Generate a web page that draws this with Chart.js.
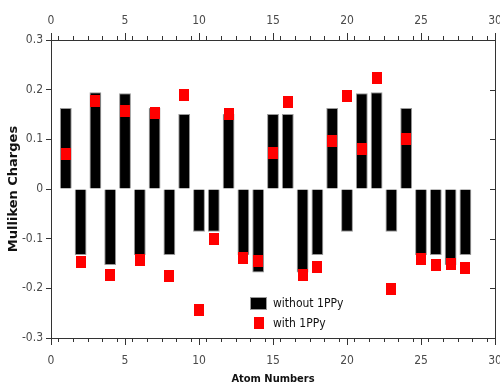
<!DOCTYPE html>
<html>
<head>
<meta charset="utf-8">
<script src="https://cdn.jsdelivr.net/npm/chart.js@4.4.1/dist/chart.umd.min.js"></script>
<style>
  html, body { margin: 0; padding: 0; background: #fff; }
</style>
</head>
<body>
<canvas id="chart" width="500" height="385"></canvas>
<script>
// atom index on the x axis
const atomNumbers = [1, 2, 3, 4, 5, 6, 7, 8, 9, 10, 11, 12, 13, 14,
  15, 16, 17, 18, 19, 20, 21, 22, 23, 24, 25, 26, 27, 28];

// Mulliken charges without 1PPy (black bars)
const withoutPPy = [0.163, -0.133, 0.195, -0.153, 0.193, -0.133, 0.163, -0.133,
  0.151, -0.086, -0.086, 0.151, -0.133, -0.168, 0.151, 0.151, -0.168, -0.133,
  0.163, -0.086, 0.193, 0.195, -0.086, 0.163, -0.133, -0.133, -0.153, -0.133];

// Mulliken charges with 1PPy (red squares)
const withPPy = [0.070, -0.146, 0.178, -0.173, 0.157, -0.143, 0.154, -0.175,
  0.190, -0.243, -0.101, 0.152, -0.139, -0.144, 0.072, 0.175, -0.173, -0.158,
  0.097, 0.187, 0.080, 0.224, -0.201, 0.101, -0.141, -0.153, -0.152, -0.159];

const xLabelEvery = 5;
const seriesNames = ['without 1PPy', 'with 1PPy'];

const fontFamily = "'DejaVu Sans Condensed', 'DejaVu Sans', sans-serif";
const axisColor = '#333';
const labelColor = '#4a4a4a';

// red square marker, slightly taller than wide like the original
const marker = document.createElement('canvas');
marker.width = 10;
marker.height = 12;
const mctx = marker.getContext('2d');
mctx.fillStyle = '#ff0000';
mctx.fillRect(0, 0, 10, 12);

const xLabel = (v) => (v % xLabelEvery === 0 ? String(v) : '');
const yLabel = (v) => {
  const r = Math.round(v * 10) / 10;
  return r === 0 ? '0' : r.toFixed(1);
};

// no extra room for the overhanging end labels
const fitX = (h) => (s) => {
  s.height = h;
  s.paddingLeft = 0;
  s.paddingRight = 0;
};
const fitY = (w) => (s) => {
  s.width = w;
  s.paddingTop = 0;
  s.paddingBottom = 0;
};

// legend inside the plot, inward ticks on the right border, longer major x ticks
const innerBits = {
  id: 'innerBits',
  afterDatasetsDraw(chart) {
    const { ctx, chartArea, scales } = chart;
    ctx.save();
    ctx.strokeStyle = axisColor;
    ctx.lineWidth = 1;
    scales.y.ticks.forEach((t) => {
      const py = Math.round(scales.y.getPixelForValue(t.value)) + 0.5;
      ctx.beginPath();
      ctx.moveTo(chartArea.right, py);
      ctx.lineTo(chartArea.right - 5, py);
      ctx.stroke();
    });
    scales.x.ticks.forEach((t) => {
      if (t.value % xLabelEvery !== 0) return;
      const px = Math.round(scales.x.getPixelForValue(t.value)) + 0.5;
      ctx.beginPath();
      ctx.moveTo(px, chartArea.bottom);
      ctx.lineTo(px, chartArea.bottom + 7);
      ctx.moveTo(px, chartArea.top);
      ctx.lineTo(px, chartArea.top - 7);
      ctx.stroke();
    });

    // legend
    const lx = chartArea.left + 199;
    const ly = chartArea.top + 257;
    ctx.fillStyle = '#000';
    ctx.fillRect(lx, ly, 17, 13);
    ctx.strokeStyle = '#999';
    ctx.strokeRect(lx + 0.5, ly + 0.5, 16, 12);
    ctx.drawImage(marker, lx + 4, ly + 20);
    ctx.fillStyle = '#111';
    ctx.font = '12px ' + fontFamily;
    ctx.textBaseline = 'middle';
    ctx.textAlign = 'left';
    ctx.fillText(seriesNames[0], lx + 23, ly + 7);
    ctx.fillText(seriesNames[1], lx + 23, ly + 27);
    ctx.restore();
  },
};

const tickFont = { family: fontFamily, size: 12 };

new Chart(document.getElementById('chart'), {
  type: 'bar',
  data: {
    datasets: [
      {
        type: 'scatter',
        label: seriesNames[1],
        data: atomNumbers.map((a, i) => ({ x: a, y: withPPy[i] })),
        pointStyle: marker,
        order: 1,
      },
      {
        type: 'bar',
        label: seriesNames[0],
        data: atomNumbers.map((a, i) => ({ x: a, y: withoutPPy[i] })),
        backgroundColor: '#000',
        borderColor: '#999',
        borderWidth: 1,
        barPercentage: 0.8,
        categoryPercentage: 1,
        order: 2,
      },
    ],
  },
  options: {
    responsive: false,
    animation: false,
    layout: { padding: 0 },
    plugins: {
      legend: { display: false },
      tooltip: { enabled: false },
    },
    scales: {
      x: {
        type: 'linear',
        position: 'bottom',
        min: 0,
        max: 30,
        offset: false,
        ticks: { stepSize: 1, autoSkip: false, maxRotation: 0, padding: 12,
          color: labelColor, font: tickFont, callback: xLabel },
        grid: { drawOnChartArea: false, tickLength: 4, color: axisColor },
        border: { color: axisColor },
        title: { display: true, text: 'Atom Numbers', color: '#111',
          font: { family: fontFamily, size: 11, weight: 'bold', lineHeight: 1 },
          padding: { top: 0, bottom: 0 } },
        afterFit: fitX(47),
      },
      x2: {
        type: 'linear',
        axis: 'x',
        position: 'top',
        min: 0,
        max: 30,
        offset: false,
        ticks: { stepSize: 1, autoSkip: false, maxRotation: 0, padding: 8,
          color: labelColor, font: tickFont, callback: xLabel },
        grid: { drawOnChartArea: false, tickLength: 4, color: axisColor },
        border: { color: axisColor },
        afterFit: fitX(40),
      },
      y: {
        type: 'linear',
        position: 'left',
        min: -0.3,
        max: 0.3,
        ticks: { stepSize: 0.1, padding: 3, color: labelColor, font: tickFont,
          callback: yLabel },
        grid: { drawOnChartArea: false, tickLength: 5, color: axisColor },
        border: { color: axisColor },
        title: { display: true, text: 'Mulliken Charges', color: '#111',
          font: { family: "'DejaVu Sans', sans-serif", size: 13, weight: 'bold' },
          padding: { top: 6, bottom: 0 } },
        afterFit: fitY(51),
      },
      y2: {
        type: 'linear',
        axis: 'y',
        position: 'right',
        min: -0.3,
        max: 0.3,
        ticks: { display: false },
        grid: { display: false },
        border: { display: true, color: axisColor },
        afterFit: fitY(4),
      },
    },
  },
  plugins: [innerBits],
});
</script>
</body>
</html>
